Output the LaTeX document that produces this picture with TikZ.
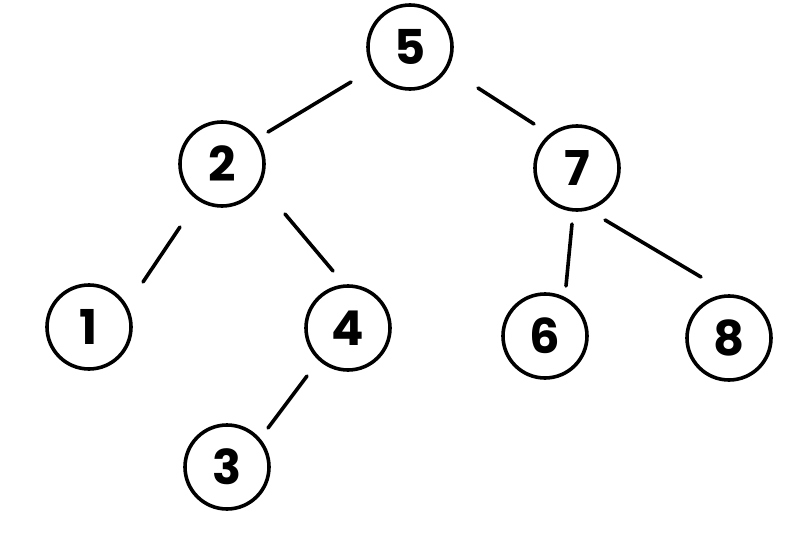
\documentclass[tikz,border=0pt]{standalone}
\usepackage{fontspec}
\setmainfont{Poppins}
\usetikzlibrary{calc}
\begin{document}
\begin{tikzpicture}[x=1pt,y=-1pt,
  treenode/.style={circle,draw=black,line width=3.6pt,minimum size=84pt,inner sep=0pt,
    font=\fontsize{48}{48}\selectfont\bfseries},
  treeedge/.style={line width=3.6pt,line cap=round}]
\useasboundingbox (0,0) rectangle (809,543);
\node[treenode] (n5) at (410,47) {5};
\node[treenode] (n2) at (222,164) {2};
\node[treenode] (n7) at (577,168) {7};
\node[treenode] (n1) at (89,327) {1};
\node[treenode] (n4) at (348,328) {4};
\node[treenode] (n6) at (545,336) {6};
\node[treenode] (n8) at (729,338) {8};
\node[treenode] (n3) at (227,467) {3};
\draw[treeedge] ($(n5)+(-59,35)$) -- ($(n2)+(46,-32)$);
\draw[treeedge] ($(n5)+(68,41)$) -- ($(n7)+(-43,-44)$);
\draw[treeedge] ($(n2)+(-42,63)$) -- ($(n1)+(54,-45)$);
\draw[treeedge] ($(n2)+(63,50)$) -- ($(n4)+(-15,-57)$);
\draw[treeedge] ($(n7)+(-5,56)$) -- ($(n6)+(21,-50)$);
\draw[treeedge] ($(n7)+(28,52)$) -- ($(n8)+(-28,-61)$);
\draw[treeedge] ($(n4)+(-41,48)$) -- ($(n3)+(41,-39)$);
\end{tikzpicture}
\end{document}
